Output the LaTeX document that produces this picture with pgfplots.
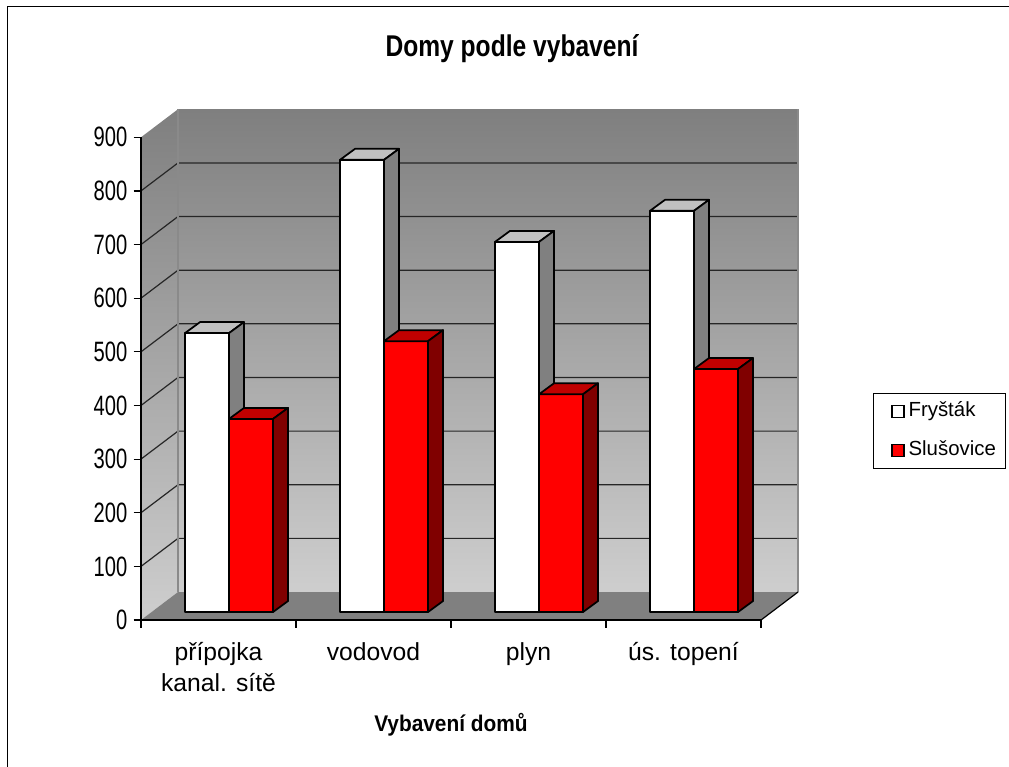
\documentclass[border=0pt]{standalone}
\usepackage{fontspec}
\setmainfont{Liberation Sans}
\usepackage{graphicx}
\usepackage{pgfplots}
\usepackage{pgfplotstable}
\pgfplotsset{compat=1.18}

\definecolor{wallTop}{HTML}{7F7F7F}
\definecolor{wallBot}{HTML}{CECECE}
\definecolor{floorc}{HTML}{808080}
\definecolor{gridc}{HTML}{262626}
\definecolor{edgec}{HTML}{8A8A8A}
\definecolor{wtop}{HTML}{C0C0C0}
\definecolor{wside}{HTML}{808080}
\definecolor{rfront}{HTML}{FF0000}
\definecolor{rtop}{HTML}{C00000}
\definecolor{rside}{HTML}{800000}

% 3D bar mark: origin = top-front-left corner of the bar; height from \barval
\newcommand\defbarmark[4]{%
\pgfdeclareplotmark{#1}{%
  \pgfmathsetlengthmacro\bh{\barval*0.4023pt}%
  \pgfsetlinewidth{1.3pt}\pgfsetstrokecolor{black}\pgfsetroundjoin
  \pgfsetfillcolor{#2}%
  \pgfpathrectanglecorners{\pgfpointorigin}{\pgfpoint{33pt}{-\bh}}%
  \pgfusepath{fill,stroke}%
  \pgfsetfillcolor{#3}%
  \pgfpathmoveto{\pgfpointorigin}%
  \pgfpathlineto{\pgfpoint{33pt}{0pt}}%
  \pgfpathlineto{\pgfpoint{44.25pt}{8.25pt}}%
  \pgfpathlineto{\pgfpoint{11.25pt}{8.25pt}}%
  \pgfpathclose
  \pgfusepath{fill,stroke}%
  \pgfsetfillcolor{#4}%
  \pgfpathmoveto{\pgfpoint{33pt}{0pt}}%
  \pgfpathlineto{\pgfpoint{44.25pt}{8.25pt}}%
  \pgfpathlineto{\pgfpoint{44.25pt}{\dimexpr8.25pt-\bh\relax}}%
  \pgfpathlineto{\pgfpoint{33pt}{-\bh}}%
  \pgfpathclose
  \pgfusepath{fill,stroke}%
}}
\defbarmark{barW}{white}{wtop}{wside}
\defbarmark{barR}{rfront}{rtop}{rside}

\pgfplotstableread{
x v
185 520
340 843
495 690
650 748
}\frystak
\pgfplotstableread{
x v
229 360
384 505
539 406
694 453
}\slusovice

\pgfplotsset{bar3d/.style={only marks, scatter, forget plot, mark=#1,
  point meta=explicit symbolic,
  scatter/@pre marker code/.code={\let\barval\pgfplotspointmeta},
  scatter/@post marker code/.code={}}}

\begin{document}
\begin{tikzpicture}
\begin{axis}[
  x=0.75pt, y=0.4023pt,
  xmin=141, xmax=761, ymin=0, ymax=900,
  clip=false, axis on top,
  axis x line*=bottom, axis y line*=left,
  axis line style={black, line width=0.9pt},
  ytick={0,100,...,900},
  xtick={141,296,451,606,761},
  xticklabels={{přípojka\\kanal. sítě},vodovod,plyn,{ús. topení}},
  x tick label as interval,
  tick align=outside, major tick length=5.6pt,
  tick style={black, line width=0.9pt},
  /pgf/number format/assume math mode=true,
  yticklabel={\scalebox{0.72}[1]{\pgfmathprintnumber{\tick}}},
  yticklabel style={font=\fontsize{21}{22}\selectfont, anchor=east, inner sep=0pt, xshift=-4.5pt},
  xticklabel style={font=\fontsize{18.5}{23.25}\selectfont, align=center, anchor=north, inner sep=0pt, yshift=-11pt},
  xlabel={\scalebox{0.92}[1]{Vybavení domů}},
  xlabel style={font=\bfseries\fontsize{17}{19}\selectfont, at={(axis description cs:0.5,-0.2299)}, anchor=base},
  legend style={at={(axis description cs:1.1806,0.4702)}, anchor=north west, draw=black, line width=0.75pt, fill=white,
    font=\fontsize{15.3}{18}\selectfont, inner xsep=7.5pt, inner ysep=6.5pt, row sep=15pt, column sep=3pt,
    nodes={inner sep=0pt, text height=11pt, text depth=3pt}, cells={anchor=west}},
  legend image code/.code={\path (0pt,0pt); \draw[#1, line width=0.9pt] (6pt,-4.5pt) rectangle (15pt,4.5pt);},
]
% chart frame
\draw[black, line width=0.75pt] (axis cs:8,1144.7) rectangle (axis cs:1030,-300);
% walls and floor
\shade[top color=wallTop, bottom color=wallBot] (axis cs:178,52.2) rectangle (axis cs:798,952.2);
\shade[top color=wallTop, bottom color=wallBot] (axis cs:141,0) -- (axis cs:178,52.2) -- (axis cs:178,952.2) -- (axis cs:141,900) -- cycle;
\fill[floorc] (axis cs:141,0) -- (axis cs:761,0) -- (axis cs:798,52.2) -- (axis cs:178,52.2) -- cycle;
% gridlines
\draw[gridc, line width=0.9pt] (axis cs:141,100) -- (axis cs:178,152.2) -- (axis cs:798,152.2);
\draw[gridc, line width=0.9pt] (axis cs:141,200) -- (axis cs:178,252.2) -- (axis cs:798,252.2);
\draw[gridc, line width=0.9pt] (axis cs:141,300) -- (axis cs:178,352.2) -- (axis cs:798,352.2);
\draw[gridc, line width=0.9pt] (axis cs:141,400) -- (axis cs:178,452.2) -- (axis cs:798,452.2);
\draw[gridc, line width=0.9pt] (axis cs:141,500) -- (axis cs:178,552.2) -- (axis cs:798,552.2);
\draw[gridc, line width=0.9pt] (axis cs:141,600) -- (axis cs:178,652.2) -- (axis cs:798,652.2);
\draw[gridc, line width=0.9pt] (axis cs:141,700) -- (axis cs:178,752.2) -- (axis cs:798,752.2);
\draw[gridc, line width=0.9pt] (axis cs:141,800) -- (axis cs:178,852.2) -- (axis cs:798,852.2);
% wall edges
\draw[edgec, line width=1pt] (axis cs:178,52.2) -- (axis cs:178,952.2);
\draw[edgec, line width=1pt] (axis cs:798,52.2) -- (axis cs:798,952.2);
\draw[black, line width=0.9pt] (axis cs:761,0) -- (axis cs:798,52.2);
% bars (front-top-left corner at value + base offset 14.9)
\addplot[bar3d=barW] table[x=x, y expr=\thisrow{v}+14.9, meta=v] {\frystak};
\addplot[bar3d=barR] table[x=x, y expr=\thisrow{v}+14.9, meta=v] {\slusovice};
\addlegendimage{fill=white, draw=black}
\addlegendentry{Fryšták}
\addlegendimage{fill=rfront, draw=black}
\addlegendentry{Slušovice}
% title
\node[font=\bfseries\fontsize{22.5}{24}\selectfont, anchor=base] at (axis cs:512,1050.2) {\scalebox{0.82}[1]{Domy podle vybavení}};
\coordinate (bbTL) at (axis cs:0,1155.9);
\coordinate (bbBR) at (axis cs:1009,-272.2);
\end{axis}
\pgfresetboundingbox
\useasboundingbox (bbTL) rectangle (bbBR);
\end{tikzpicture}
\end{document}
